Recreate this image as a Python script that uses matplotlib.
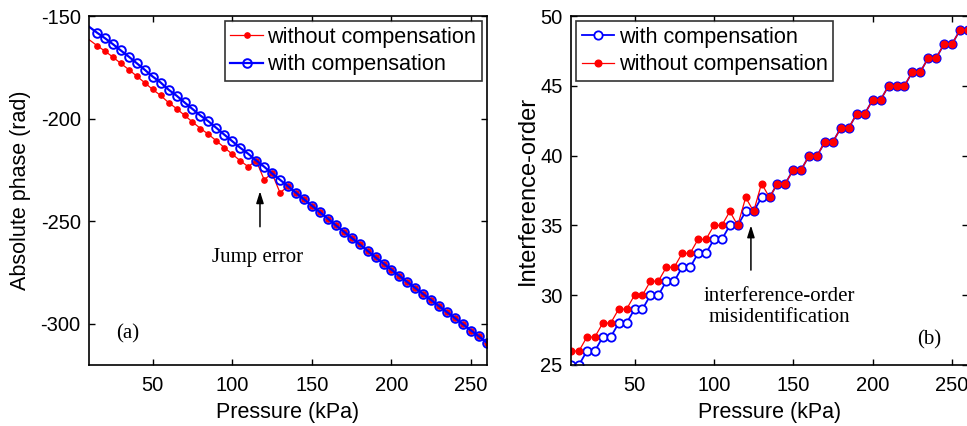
import matplotlib
matplotlib.use("Agg")
import matplotlib.pyplot as plt

# pressure steps (kPa), same for both panels
pressure = [10, 15, 20, 25, 30, 35, 40, 45, 50, 55,
            60, 65, 70, 75, 80, 85, 90, 95, 100, 105,
            110, 115, 120, 125, 130, 135, 140, 145, 150, 155,
            160, 165, 170, 175, 180, 185, 190, 195, 200, 205,
            210, 215, 220, 225, 230, 235, 240, 245, 250, 255, 260]

# (a) absolute phase (rad)
phase_comp = [-155.2, -158.1, -160.8, -163.7, -166.8, -169.8, -173.0, -176.2, -179.5, -182.4,
              -185.9, -188.8, -192.1, -195.3, -198.5, -201.3, -204.5, -207.8, -211.0, -214.2,
              -217.1, -220.4, -223.4, -226.7, -229.8, -232.9, -236.1, -239.3, -242.4, -245.5,
              -248.7, -251.9, -255.0, -258.1, -261.2, -264.4, -267.6, -270.6, -273.6, -276.6,
              -279.6, -282.5, -285.5, -288.4, -291.4, -294.3, -297.2, -300.2, -303.2, -306.1, -309.2]
phase_nocomp = [-161.5, -164.4, -167.1, -170.0, -173.1, -176.1, -179.3, -182.5, -185.8, -188.7,
                -192.2, -195.1, -198.4, -201.6, -204.8, -207.6, -210.8, -214.1, -217.3, -220.5,
                -223.4, -220.4, -229.7, -226.7, -236.1, -232.9, -236.1, -239.3, -242.4, -245.5,
                -248.7, -251.9, -255.0, -258.1, -261.2, -264.4, -267.6, -270.6, -273.6, -276.6,
                -279.6, -282.5, -285.5, -288.4, -291.4, -294.3, -297.2, -300.2, -303.2, -306.1, -309.2]

# (b) interference order
order_comp = [25, 25, 26, 26, 27, 27, 28, 28, 29, 29,
              30, 30, 31, 31, 32, 32, 33, 33, 34, 34,
              35, 35, 36, 36, 37, 37, 38, 38, 39, 39,
              40, 40, 41, 41, 42, 42, 43, 43, 44, 44,
              45, 45, 45, 46, 46, 47, 47, 48, 48, 49, 49]
order_nocomp = [26, 26, 27, 27, 28, 28, 29, 29, 30, 30,
                31, 31, 32, 32, 33, 33, 34, 34, 35, 35,
                36, 35, 37, 36, 38, 37, 38, 38, 39, 39,
                40, 40, 41, 41, 42, 42, 43, 43, 44, 44,
                45, 45, 45, 46, 46, 47, 47, 48, 48, 49, 49]

plt.rcParams['font.family'] = ['Liberation Sans', 'DejaVu Sans']
plt.rcParams['axes.unicode_minus'] = False
plt.rcParams['xtick.direction'] = 'in'
plt.rcParams['ytick.direction'] = 'in'
plt.rcParams['xtick.top'] = True
plt.rcParams['ytick.right'] = True
plt.rcParams['xtick.major.size'] = 4
plt.rcParams['ytick.major.size'] = 4
plt.rcParams['axes.linewidth'] = 1.2

fig = plt.figure(figsize=(9.67, 4.26), dpi=100)
ax1 = fig.add_axes([89/967, 61/426, 398/967, 349/426])
ax2 = fig.add_axes([571/967, 61/426, 397/967, 349/426])

serif = ['Liberation Serif', 'DejaVu Serif']
arrow = dict(arrowstyle='-|>,head_length=0.7,head_width=0.22', color='black', lw=1.1)


def style_axes(ax, ylab, ylab_x, ylab_size):
    ax.set_xlim(10, 260)
    ax.set_xticks([50, 100, 150, 200, 250])
    ax.set_xlabel('Pressure (kPa)', fontsize=15.5)
    ax.set_ylabel(ylab, fontsize=ylab_size)
    ax.xaxis.set_label_coords(0.5, -0.1375)
    ax.xaxis.label.set_va('center')
    ax.yaxis.set_label_coords(ylab_x, 0.5)
    ax.yaxis.label.set_va('center')
    ax.tick_params(axis='x', labelsize=14.5, width=1, pad=8)
    ax.tick_params(axis='y', labelsize=14.5, width=1, pad=6)


def style_legend(ax, loc):
    leg = ax.legend(loc=loc, fontsize=15.6, handlelength=1.5, handletextpad=0.2,
                    labelspacing=0.3, borderpad=0.25, borderaxespad=0.25, fancybox=False)
    leg.get_frame().set_edgecolor('black')
    leg.get_frame().set_linewidth(1.2)


# ---- panel (a)
ax1.plot(pressure, phase_nocomp, color='red', lw=0.9, marker='o', ms=3.8,
         markevery=slice(1, None), label='without compensation')
ax1.plot(pressure, phase_comp, color='blue', lw=1.6, marker='o', ms=6.2,
         mfc='none', mew=1.4, markevery=slice(1, None), label='with compensation')
ax1.set_ylim(-320, -150)
ax1.set_yticks([-300, -250, -200, -150])
style_axes(ax1, 'Absolute phase (rad)', -0.173, 15.5)
style_legend(ax1, 'upper right')
ax1.annotate('', xy=(117.4, -234), xytext=(117.4, -254), arrowprops=arrow)
ax1.text(115.8, -267.5, 'Jump error', fontsize=15, family=serif, ha='center', va='center')
ax1.text(34.5, -305, '(a)', fontsize=15, family=serif, ha='center', va='center')

# ---- panel (b)
ax2.plot(pressure, order_comp, color='blue', lw=1.3, marker='o', ms=6,
         mfc='white', mew=1.3, label='with compensation')
ax2.plot(pressure, order_nocomp, color='red', lw=0.9, marker='o', ms=4.8,
         label='without compensation')
ax2.set_ylim(25, 50)
ax2.set_yticks([25, 30, 35, 40, 45, 50])
style_axes(ax2, 'Interference-order', -0.108, 17)
style_legend(ax2, 'upper left')
ax2.annotate('', xy=(123.3, 35.2), xytext=(123.3, 31.6), arrowprops=arrow)
ax2.text(141, 29.15, 'interference-order\nmisidentification', fontsize=15, family=serif,
         ha='center', va='center', linespacing=1.2)
ax2.text(235.5, 26.8, '(b)', fontsize=15, family=serif, ha='center', va='center')

fig.savefig('out.png', dpi=100)
